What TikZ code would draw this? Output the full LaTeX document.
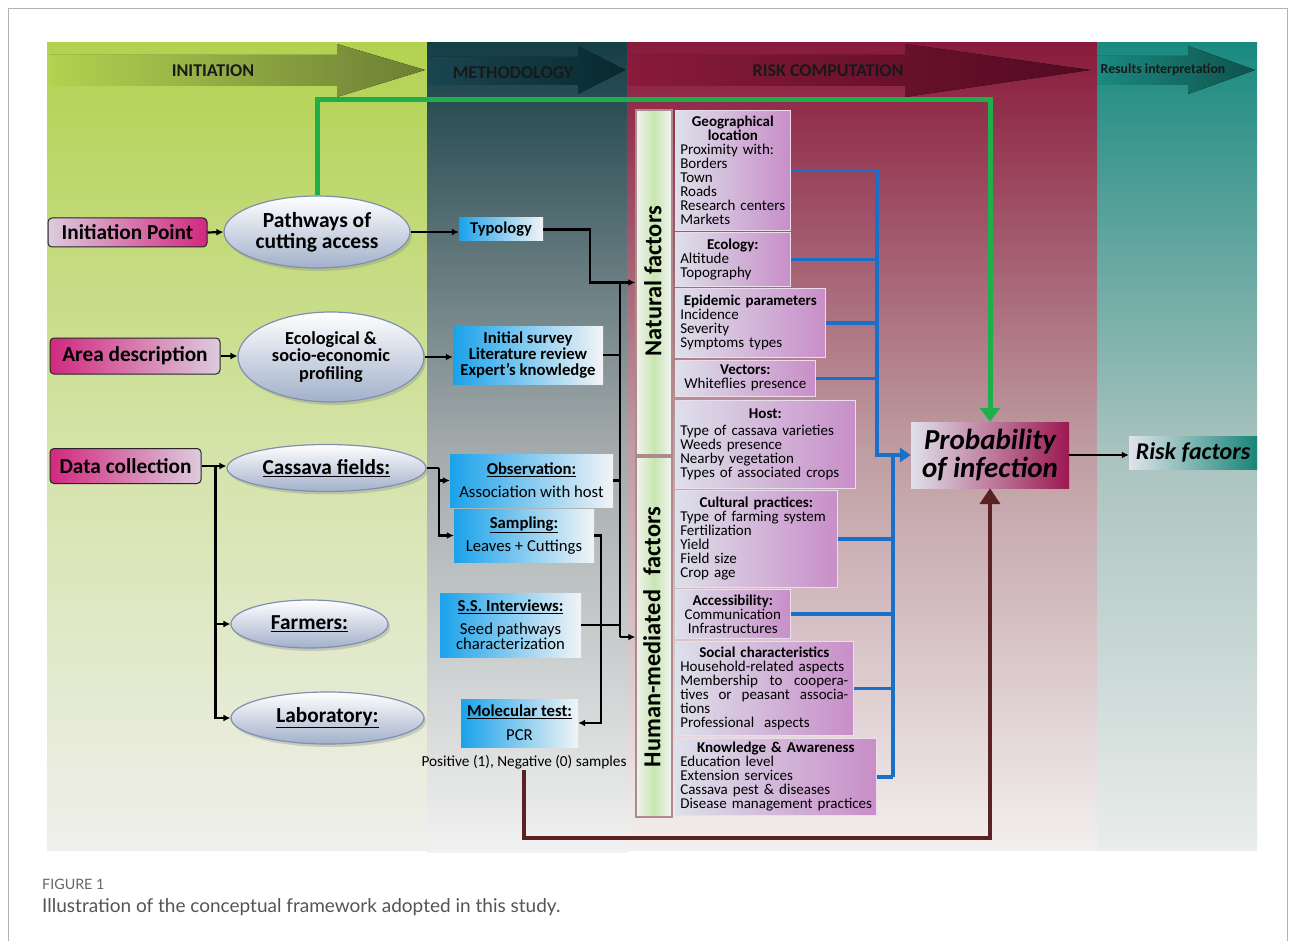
\documentclass[tikz,border=0pt]{standalone}
\usepackage{fontspec}
\setmainfont{Carlito}
\newfontfamily\capfont{Lato}
\usetikzlibrary{arrows.meta,shapes.geometric,shadows}
\definecolor{iniT}{HTML}{B2D250}
\definecolor{iniM}{HTML}{D4E3A8}
\definecolor{iniB}{HTML}{EFEFEC}
\definecolor{metT}{HTML}{163E46}
\definecolor{metM}{HTML}{A3AAAB}
\definecolor{metB}{HTML}{F1F1F1}
\definecolor{rskT}{HTML}{891A3B}
\definecolor{rskM}{HTML}{BE9CA2}
\definecolor{rskB}{HTML}{F3EFEF}
\definecolor{resT}{HTML}{1A8A80}
\definecolor{resM}{HTML}{A8C2BE}
\definecolor{resB}{HTML}{E9EDEB}
\definecolor{arrI}{HTML}{6B7E35}
\definecolor{arrM1}{HTML}{1A4550}
\definecolor{arrM2}{HTML}{082A30}
\definecolor{arrR}{HTML}{520A22}
\definecolor{arrS}{HTML}{0F524C}
\definecolor{magC}{HTML}{D2287F}
\definecolor{magL}{HTML}{DCCCDD}
\definecolor{methL}{HTML}{1AA2EA}
\definecolor{methR}{HTML}{F2F4F6}
\definecolor{facL}{HTML}{DDE0EA}
\definecolor{facR}{HTML}{C88EC8}
\definecolor{facD}{HTML}{EBDDEB}
\definecolor{vpL}{HTML}{F2F3F0}
\definecolor{vpM}{HTML}{C6E6B0}
\definecolor{vpR}{HTML}{F4F4F4}
\definecolor{vpD}{HTML}{B08A8A}
\definecolor{ellD}{HTML}{7F8FB0}
\definecolor{ellB}{HTML}{A2B0CA}
\definecolor{bluC}{HTML}{1A6FC8}
\definecolor{grnC}{HTML}{1DB04A}
\definecolor{brnC}{HTML}{5A2222}
\definecolor{prL}{HTML}{DFE1EA}
\definecolor{prR}{HTML}{9C1850}
\definecolor{rfL}{HTML}{E0E4EA}
\definecolor{rfR}{HTML}{188478}
\definecolor{capA}{HTML}{666666}
\definecolor{capB}{HTML}{555555}
\newcommand\fln[1]{\mbox{#1}\par}
\begin{document}
\begin{tikzpicture}[x=1pt,y=-1pt,
 blk/.style={draw=black,line width=2.2pt,-{Latex[length=7pt,width=7pt]}},
 bln/.style={draw=black,line width=2.2pt},
 blu/.style={draw=bluC,line width=3.5pt},
 grn/.style={draw=grnC,line width=5pt,-{Triangle[length=14pt,width=20pt]}},
 brn/.style={draw=brnC,line width=4.5pt,-{Triangle[length=16pt,width=20pt]}},
 ell/.style={ellipse,draw=ellD,line width=1.2pt,top color=white,bottom color=ellB,inner sep=0pt,drop shadow={opacity=0.3,shadow xshift=2pt,shadow yshift=-3pt}},
 elltxt/.style={align=center,inner sep=0pt,font=\fontsize{21.3}{21}\selectfont\bfseries},
 magbox/.style={rounded corners=4pt,draw=black!85,line width=1pt,inner sep=0pt,font=\fontsize{21.3}{22}\selectfont\bfseries},
 meth/.style={left color=methL,right color=methR,inner sep=0pt,align=center},
 fac/.style={left color=facL,right color=facR,draw=facD,line width=0.6pt,anchor=north west,inner xsep=5pt,inner ysep=2pt,align=left,font=\fontsize{15}{14}\selectfont},
 vpan/.style={left color=vpL,right color=vpR,middle color=vpM,draw=vpD,line width=1.5pt,inner sep=0pt},
 vtxt/.style={rotate=90,font=\fontsize{24.4}{25}\selectfont\bfseries},
 hdr/.style={font=\fontsize{18}{20}\selectfont\bfseries,text=black!90}
]
\useasboundingbox (0,0) rectangle (1295,941);
\fill[white] (0,0) rectangle (1295,941);
\draw[gray!60,line width=0.8pt] (8,941) -- (8,8) -- (1287,8) -- (1287,941);
% panels
\fill[top color=iniT,bottom color=iniB,middle color=iniM] (47,43) rectangle (427,850);
\fill[top color=metT,bottom color=metB,middle color=metM] (427,43) rectangle (627,852);
\fill[top color=rskT,bottom color=rskB,middle color=rskM] (627,43) rectangle (1097,850);
\fill[top color=resT,bottom color=resB,middle color=resM] (1097,43) rectangle (1257,850);
% header arrows
\fill[left color=iniT,right color=arrI] (50,55) -- (337,55) -- (337,44) -- (425,70) -- (337,97) -- (337,86) -- (50,86) -- cycle;
\fill[left color=arrM1,right color=arrM2] (428,57) -- (578,57) -- (578,46) -- (625,70) -- (578,94) -- (578,85) -- (428,85) -- cycle;
\fill[left color=rskT,right color=arrR] (628,55) -- (905,55) -- (905,44) -- (1090,70) -- (905,97) -- (905,86) -- (628,86) -- cycle;
\fill[left color=resT,right color=arrS] (1097,56) -- (1188,56) -- (1188,46) -- (1255,70) -- (1188,94) -- (1188,85) -- (1097,85) -- cycle;
\node[hdr] (h1) at (213,71) {INITIATION};
\node[hdr] (h2) at (513,73) {METHODOLOGY};
\node[hdr] (h3) at (828,71) {RISK COMPUTATION};
\node[font=\fontsize{13.8}{14}\selectfont\bfseries,text=black!90] (h4) at (1163,70) {Results interpretation};
% left column
\node[magbox,left color=magL,right color=magC,minimum width=159pt,minimum height=29pt] (ip) at (127.5,232.5) {Initiation Point};
\node[ell,minimum width=186pt,minimum height=72pt] (pw) at (317,232) {};
\node[elltxt,font=\fontsize{21.5}{21}\selectfont\bfseries] (pwt) at (pw.center) {Pathways of\\cutting access};
\node[magbox,left color=magC,right color=magL,minimum width=170pt,minimum height=36pt] (ad) at (135,356) {Area description};
\node[ell,minimum width=186pt,minimum height=90pt] (eco) at (331,357) {};
\node[elltxt,font=\fontsize{18.3}{17.5}\selectfont\bfseries] (ecot) at (eco.center) {Ecological \&\\socio-economic\\profiling};
\node[magbox,left color=magC,right color=magL,minimum width=151pt,minimum height=35pt] (dc) at (125.5,466) {Data collection};
\node[ell,minimum width=199pt,minimum height=47pt] (cas) at (326.5,468) {};
\node[elltxt] (cast) at (cas.center) {\underline{Cassava fields:}};
\node[ell,minimum width=157pt,minimum height=48pt] (farm) at (309.5,624) {};
\node[elltxt] (farmt) at (farm.center) {\underline{Farmers:}};
\node[ell,minimum width=193pt,minimum height=52pt] (lab) at (327.5,718) {};
\node[elltxt] (labt) at (lab.center) {\underline{Laboratory:}};
% methodology
\node[meth,minimum width=84pt,minimum height=23pt,font=\fontsize{16.5}{16}\selectfont\bfseries] (typ) at (501,229.5) {Typology};
\node[meth,minimum width=150pt,minimum height=58pt,font=\fontsize{16.7}{15.7}\selectfont\bfseries] (isv) at (528,355) {Initial survey\\Literature review\\Expert’s knowledge};
\node[meth,minimum width=163pt,minimum height=53pt,font=\fontsize{16.7}{23}\selectfont] (obs) at (531.5,480.5) {\textbf{\underline{Observation:}}\\Association with host};
\node[meth,minimum width=140pt,minimum height=53pt,font=\fontsize{16.7}{23}\selectfont] (samp) at (524,535.5) {\textbf{\underline{Sampling:}}\\Leaves + Cuttings};
\node[meth,minimum width=141pt,minimum height=64pt,font=\fontsize{16.7}{15}\selectfont] (ssi) at (510.5,625) {\textbf{\underline{S.S. Interviews:}}\\[8pt]Seed pathways\\characterization};
\node[meth,minimum width=117pt,minimum height=48pt,font=\fontsize{16.7}{24}\selectfont] (mol) at (519.5,723) {\textbf{\underline{Molecular test:}}\\PCR};
\node[font=\fontsize{15.3}{16}\selectfont,inner sep=1pt] (pos) at (524,762) {Positive (1), Negative (0) samples};
% vertical panels
\node[vpan,minimum width=36pt,minimum height=345pt] (nat) at (654,282.5) {};
\node[vtxt] (natt) at (653,281) {Natural factors};
\node[vpan,minimum width=36pt,minimum height=360pt] (hum) at (654,637) {};
\node[vtxt] (humt) at (652,637) {Human-mediated\hspace{0.35em} factors};
% factor boxes
\node[fac,text width=105pt,minimum height=120pt] (geo) at (675,110) {{\centering\bfseries Geographical\\location\par}\fln{Proximity with:}\fln{Borders}\fln{Town}\fln{Roads}\fln{Research centers}\fln{Markets}};
\node[fac,text width=105pt,minimum height=54pt] (ecol) at (675,232) {{\centering\bfseries Ecology:\par}\fln{Altitude}\fln{Topography}};
\node[fac,text width=140pt,minimum height=69pt] (epi) at (675,288) {{\centering\bfseries Epidemic parameters\par}\fln{Incidence}\fln{Severity}\fln{Symptoms types}};
\node[fac,text width=130pt,minimum height=36pt,align=center] (vec) at (675,360) {\textbf{Vectors:}\\Whiteflies presence};
\node[fac,text width=170pt,minimum height=88pt] (host) at (675,400) {{\centering\bfseries Host:\par}\vspace{3pt}\fln{Type of cassava varieties}\fln{Weeds presence}\fln{Nearby vegetation}\fln{Types of associated crops}};
\node[fac,text width=152pt,minimum height=97pt] (cult) at (675,490) {{\centering\bfseries Cultural practices:\par}\fln{Type of farming system}\fln{Fertilization}\fln{Yield}\fln{Field size}\fln{Crop age}};
\node[fac,text width=105pt,minimum height=49pt,align=center] (acc) at (675,589) {\textbf{Accessibility:}\\Communication\\Infrastructures};
\node[fac,text width=168pt,minimum height=94pt] (soc) at (675,641) {{\centering\bfseries Social characteristics\par}\fln{Household-related aspects}Membership\hfill to\hfill coopera-\\tives\hfill or\hfill peasant\hfill associa-\\tions\\\fln{Professional\ \ aspects}};
\node[fac,text width=191pt,minimum height=77pt] (know) at (675,738) {{\centering\bfseries Knowledge \& Awareness\par}\fln{Education level}\fln{Extension services}\fln{Cassava pest \& diseases}\fln{Disease management practices}};
% outcome
\node[left color=prL,right color=prR,minimum width=158pt,minimum height=66pt,inner sep=0pt,align=center,font=\fontsize{29}{28.5}\selectfont\bfseries\itshape] (prob) at (990,455) {Probability\\of infection};
\node[left color=rfL,right color=rfR,minimum width=128pt,minimum height=33pt,inner sep=0pt,font=\fontsize{24}{24}\selectfont\bfseries\itshape] (risk) at (1193,452.5) {Risk factors};
% coordinates
\coordinate (bx) at (620,0);
\coordinate (b1) at (877,0);
\coordinate (b2) at (893,0);
\coordinate (gy) at (0,100);
\coordinate (by) at (0,838);
% black connectors
\draw[blk] (ip.east) -- (pw.west);
\draw[blk] (pw.east) -- (pw.east -| typ.west);
\draw[blk] (ad.east) -- (ad.east -| eco.west);
\draw[blk] (eco.east) -- (eco.east -| isv.west);
\draw[blk] (typ.east) -- ++(47,0) |- (nat.west);
\draw[bln] (nat.west -| bx) -- (hum.west -| bx);
\draw[blk] (hum.west -| bx) -- (hum.west);
\draw[bln] (isv.east) -- (isv.east -| bx);
\draw[bln] (obs.east) -- (obs.east -| bx);
\draw[bln] (ssi.east) -- (ssi.east -| bx);
\draw[bln] (cas.east) -- ++(12,0) coordinate (cj);
\draw[blk] (cj) |- (obs.west);
\draw[blk] (cj) |- (samp.west);
\draw[blk] (samp.east) -- ++(7,0) |- (mol.east);
\draw[bln] (dc.east) -- ++(14,0) coordinate (dj);
\draw[blk] (dj) -- (dj -| cas.west);
\draw[blk] (dj) |- (farm.west);
\draw[blk] (dj) |- (lab.west);
% blue connectors
\draw[blu] (geo.east) -- (geo.east -| b1);
\draw[blu] (ecol.east) -- (ecol.east -| b1);
\draw[blu] (epi.east) -- (epi.east -| b1);
\draw[blu] (vec.east) -- (vec.east -| b1);
\draw[blu,-{Triangle[length=11pt,width=14pt]}] (geo.east -| b1) -- (prob.west -| b1) -- (prob.west);
\draw[blu] (prob.west -| b2) -- (know.east -| b2);
\draw[blu] (cult.east) -- (cult.east -| b2);
\draw[blu] (acc.east) -- (acc.east -| b2);
\draw[blu] (soc.east) -- (soc.east -| b2);
\draw[blu] (know.east) -- (know.east -| b2);
% green and brown
\draw[grn] (pw.north) |- (prob.north |- gy) -- (prob.north);
\draw[brn] (pos.south) |- (prob.south |- by) -- (prob.south);
\draw[draw=black,line width=1.8pt,-{Latex[length=7pt,width=7pt]}] (prob.east) -- (prob.east -| risk.west);
% caption
\node[anchor=west,font=\capfont\fontsize{14.3}{15}\selectfont,text=capA,inner sep=0pt] (fig) at (42,884) {FIGURE 1};
\node[anchor=west,font=\capfont\fontsize{19}{20}\selectfont,text=capB,inner sep=0pt] (cap) at (42,907) {Illustration of the conceptual framework adopted in this study.};
\end{tikzpicture}
\end{document}
